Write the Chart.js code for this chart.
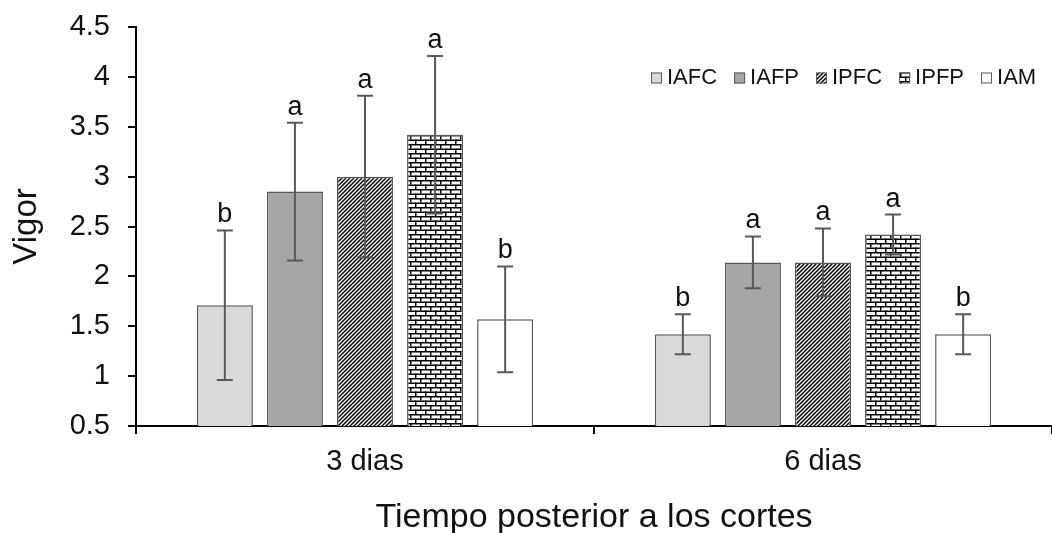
<!DOCTYPE html>
<html lang="es">
<head>
    <meta charset="UTF-8">
    <title>Vigor</title>
    <script src="https://cdn.jsdelivr.net/npm/chart.js"></script>
    <style>
        html, body { margin: 0; padding: 0; background: #fff; overflow: hidden; }
        #wrap { width: 1052px; height: 533px; }
    </style>
</head>
<body>
    <div id="wrap"><canvas id="vigor-chart" width="1052" height="533"></canvas></div>

    <script>
        // datos
        const categorias = ['3 dias', '6 dias'];
        const seriesNames = ['IAFC', 'IAFP', 'IPFC', 'IPFP', 'IAM'];

        const IAFC = [1.71, 1.42];
        const IAFP = [2.85, 2.14];
        const IPFC = [3.00, 2.14];
        const IPFP = [3.42, 2.42];
        const IAM  = [1.57, 1.42];

        // desviacion (barras de error)
        const errIAFC = [0.75, 0.20];
        const errIAFP = [0.69, 0.26];
        const errIPFC = [0.81, 0.34];
        const errIPFP = [0.79, 0.20];
        const errIAM  = [0.53, 0.20];

        // letras de significancia
        const letIAFC = ['b', 'b'];
        const letIAFP = ['a', 'a'];
        const letIPFC = ['a', 'a'];
        const letIPFP = ['a', 'a'];
        const letIAM  = ['b', 'b'];

        const yTicksMin = 0.5;
        const yTicksMax = 4.5;
        const yStep = 0.5;

        const FONT = "Arial, 'Liberation Sans', sans-serif";

        // patrones de relleno
        function hatchPattern() {
            const c = document.createElement('canvas');
            c.width = 4; c.height = 4;
            const g = c.getContext('2d');
            g.fillStyle = '#fff';
            g.fillRect(0, 0, 4, 4);
            g.strokeStyle = '#000';
            g.lineWidth = 1.5;
            g.beginPath();
            g.moveTo(-1, 5); g.lineTo(5, -1);
            g.moveTo(-1, 1); g.lineTo(1, -1);
            g.moveTo(3, 5); g.lineTo(5, 3);
            g.stroke();
            return g.createPattern(c, 'repeat');
        }

        function brickPattern() {
            const c = document.createElement('canvas');
            c.width = 10; c.height = 9;
            const g = c.getContext('2d');
            g.fillStyle = '#fff';
            g.fillRect(0, 0, 10, 9);
            g.fillStyle = '#000';
            g.fillRect(0, 0, 10, 1.5);
            g.fillRect(0, 4.5, 10, 1.5);
            g.fillRect(0, 0, 1.5, 4.5);
            g.fillRect(5, 4.5, 1.5, 4.5);
            return g.createPattern(c, 'repeat');
        }

        const fills = ['#d9d9d9', '#a6a6a6', hatchPattern(), brickPattern(), '#ffffff'];
        const valores = [IAFC, IAFP, IPFC, IPFP, IAM];
        const errores = [errIAFC, errIAFP, errIPFC, errIPFP, errIAM];
        const letras = [letIAFC, letIAFP, letIPFC, letIPFP, letIAM];

        const datasets = seriesNames.map((name, i) => ({
            label: name,
            data: valores[i],
            errors: errores[i],
            letters: letras[i],
            backgroundColor: fills[i],
            borderColor: '#595959',
            borderWidth: 1.5,
            barPercentage: 0.8,
            categoryPercentage: 0.765
        }));

        // barras de error + letras
        const errorBars = {
            id: 'errorBars',
            afterDatasetsDraw(chart) {
                const ctx = chart.ctx;
                const y = chart.scales.y;
                ctx.save();
                chart.data.datasets.forEach((ds, i) => {
                    const meta = chart.getDatasetMeta(i);
                    meta.data.forEach((bar, j) => {
                        const v = ds.data[j], e = ds.errors[j];
                        const top = y.getPixelForValue(v + e);
                        const bot = y.getPixelForValue(v - e);
                        ctx.strokeStyle = '#595959';
                        ctx.lineWidth = 2;
                        ctx.beginPath();
                        ctx.moveTo(bar.x, top); ctx.lineTo(bar.x, bot);
                        ctx.moveTo(bar.x - 8, top); ctx.lineTo(bar.x + 8, top);
                        ctx.moveTo(bar.x - 8, bot); ctx.lineTo(bar.x + 8, bot);
                        ctx.stroke();
                        ctx.fillStyle = '#111';
                        ctx.font = '27px ' + FONT;
                        ctx.textAlign = 'center';
                        ctx.textBaseline = 'alphabetic';
                        ctx.fillText(ds.letters[j], bar.x, top - 8);
                    });
                });
                ctx.restore();
            }
        };

        // leyenda dentro del area del grafico
        const insideLegend = {
            id: 'insideLegend',
            afterDraw(chart) {
                const ctx = chart.ctx;
                ctx.save();
                ctx.font = '22px ' + FONT;
                ctx.textBaseline = 'middle';
                ctx.textAlign = 'left';
                let x = 651;
                const yc = 78;
                chart.data.datasets.forEach(ds => {
                    ctx.fillStyle = ds.backgroundColor;
                    ctx.fillRect(x, yc - 5.5, 11, 11);
                    ctx.strokeStyle = '#595959';
                    ctx.lineWidth = 1;
                    ctx.strokeRect(x + 0.5, yc - 5, 10, 10);
                    ctx.fillStyle = '#111';
                    ctx.fillText(ds.label, x + 16, yc);
                    x += 16 + ctx.measureText(ds.label).width + 17;
                });
                ctx.restore();
            }
        };

        const ctxVigor = document.getElementById('vigor-chart').getContext('2d');

        new Chart(ctxVigor, {
            type: 'bar',
            data: { labels: categorias, datasets: datasets },
            plugins: [errorBars, insideLegend],
            options: {
                responsive: false,
                animation: false,
                layout: { padding: { top: 27, right: 0, bottom: 0, left: 0 } },
                plugins: {
                    legend: { display: false },
                    tooltip: { enabled: false }
                },
                scales: {
                    x: {
                        grid: {
                            display: true,
                            drawOnChartArea: false,
                            drawTicks: true,
                            tickLength: 8,
                            color: '#000',
                            lineWidth: 2
                        },
                        border: { color: '#000', width: 2 },
                        ticks: { color: '#111', font: { family: FONT, size: 29 }, padding: 11 },
                        title: {
                            display: true,
                            text: 'Tiempo posterior a los cortes',
                            color: '#111',
                            font: { family: FONT, size: 34, lineHeight: 0.85 },
                            padding: { top: 0, bottom: 1 }
                        },
                        afterFit(scale) {
                            scale.height = 107;
                            scale.paddingLeft = 0;
                            scale.paddingRight = 0;
                        }
                    },
                    y: {
                        min: yTicksMin,
                        max: yTicksMax,
                        grid: {
                            display: true,
                            drawOnChartArea: false,
                            drawTicks: true,
                            tickLength: 8,
                            color: '#000',
                            lineWidth: 2
                        },
                        border: { color: '#000', width: 2 },
                        ticks: {
                            stepSize: yStep,
                            color: '#111',
                            font: { family: FONT, size: 29 },
                            padding: 18,
                            callback: (v) => String(v)
                        },
                        title: {
                            display: true,
                            text: 'Vigor',
                            color: '#111',
                            font: { family: FONT, size: 33 },
                            padding: { top: 7, bottom: 0 }
                        },
                        afterFit(scale) {
                            scale.width = 136;
                            scale.paddingTop = 0;
                            scale.paddingBottom = 0;
                        }
                    }
                }
            }
        });
    </script>
</body>
</html>
